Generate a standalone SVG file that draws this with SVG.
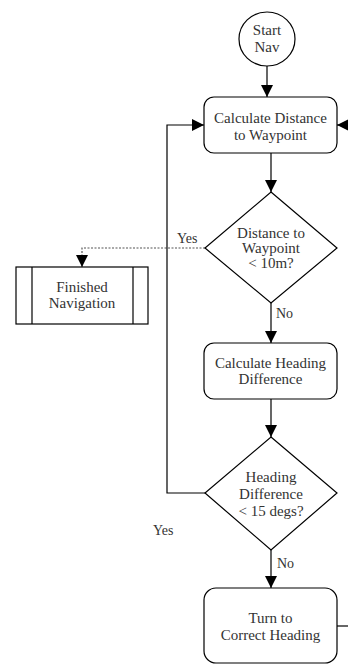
<svg xmlns="http://www.w3.org/2000/svg" width="348" height="664" viewBox="0 0 348 664">
<defs>
<style>
.s{fill:#fff;stroke:#000;stroke-width:1.2}
.t{font-family:"Liberation Serif","Times New Roman",serif;font-size:15px;fill:#333;text-anchor:middle}
.l{font-family:"Liberation Serif","Times New Roman",serif;font-size:14px;fill:#333}
.c{fill:none;stroke:#000;stroke-width:1.2}
.d{fill:none;stroke:#555;stroke-width:1.2;stroke-dasharray:2 1.5}
</style>
<marker id="a" viewBox="0 0 10 10" refX="10" refY="5" markerWidth="12" markerHeight="12" markerUnits="userSpaceOnUse" orient="auto">
<path d="M0,0 L10,5 L0,10 z" fill="#000"/>
</marker>
</defs>
<rect width="348" height="664" fill="#fff"/>
<g id="connectors">
<line class="c" x1="267" y1="66" x2="267" y2="97" marker-end="url(#a)"/>
<line class="c" x1="271" y1="153" x2="271" y2="192" marker-end="url(#a)"/>
<polyline class="d" points="205,248 82,248 82,267" marker-end="url(#a)"/>
<line class="c" x1="271" y1="303" x2="271" y2="343" marker-end="url(#a)"/>
<line class="c" x1="271" y1="399" x2="271" y2="437" marker-end="url(#a)"/>
<polyline class="c" points="205,493 167,493 167,125 204,125" marker-end="url(#a)"/>
<line class="c" x1="271" y1="550" x2="271" y2="588" marker-end="url(#a)"/>
<line class="c" x1="337" y1="626" x2="348" y2="626"/>
<line class="c" x1="352" y1="125" x2="337" y2="125" marker-end="url(#a)"/>
<text class="l" x="177" y="243">Yes</text>
<text class="l" x="276" y="318">No</text>
<text class="l" x="153" y="535">Yes</text>
<text class="l" x="277" y="568">No</text>
</g>
<g id="start">
<ellipse class="s" cx="267" cy="39" rx="28" ry="27"/>
<text class="t" x="267" y="35">Start</text>
<text class="t" x="267" y="52">Nav</text>
</g>
<g id="calcDist">
<rect class="s" x="204" y="97" width="133" height="56" rx="10"/>
<text class="t" x="270.5" y="123">Calculate Distance</text>
<text class="t" x="270.5" y="140">to Waypoint</text>
</g>
<g id="distCheck">
<polygon class="s" points="271,192 337,248 271,303 205,248"/>
<text class="t" x="271" y="238">Distance to</text>
<text class="t" x="271" y="253">Waypoint</text>
<text class="t" x="271" y="268">&lt; 10m?</text>
</g>
<g id="finished">
<rect class="s" x="16" y="267" width="132" height="57"/>
<line class="c" x1="32" y1="267" x2="32" y2="324"/>
<line class="c" x1="133" y1="267" x2="133" y2="324"/>
<text class="t" x="82" y="292">Finished</text>
<text class="t" x="82" y="308">Navigation</text>
</g>
<g id="calcHeading">
<rect class="s" x="204" y="343" width="133" height="56" rx="10"/>
<text class="t" x="270.5" y="368">Calculate Heading</text>
<text class="t" x="270.5" y="384">Difference</text>
</g>
<g id="headCheck">
<polygon class="s" points="271,437 337,493 271,550 205,493"/>
<text class="t" x="271" y="482">Heading</text>
<text class="t" x="271" y="499">Difference</text>
<text class="t" x="271" y="516">&lt; 15 degs?</text>
</g>
<g id="turn">
<rect class="s" x="204" y="588" width="133" height="75" rx="12"/>
<text class="t" x="270.5" y="623">Turn to</text>
<text class="t" x="270.5" y="640">Correct Heading</text>
</g>
</svg>
